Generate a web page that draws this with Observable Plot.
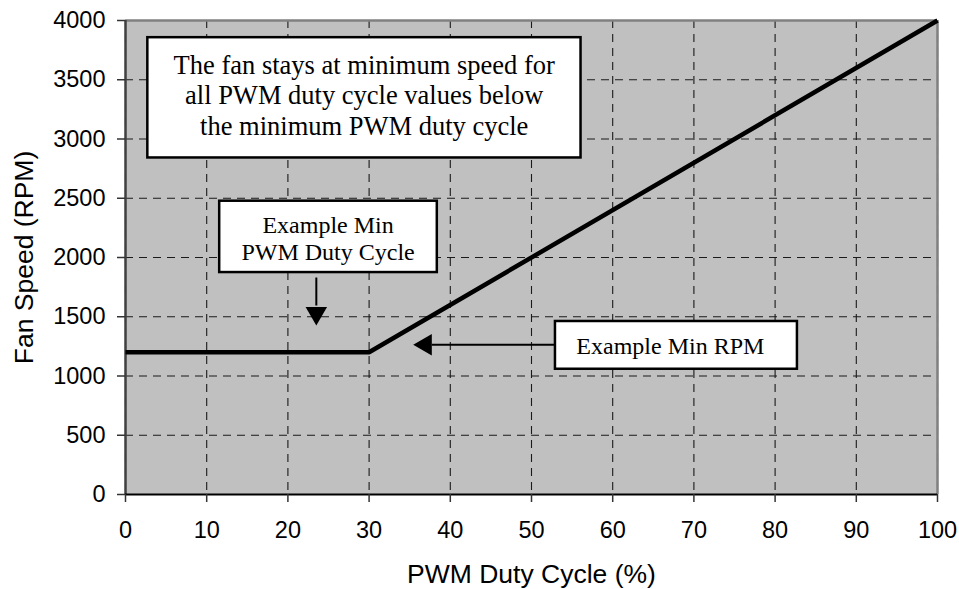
<!DOCTYPE html>
<html><head><meta charset="utf-8">
<script src="https://cdn.jsdelivr.net/npm/d3@7"></script>
<script src="https://cdn.jsdelivr.net/npm/@observablehq/plot@0.6"></script>
<style>body{margin:0;background:#fff}</style>
</head><body><div id="chart"></div>
<script>
// Data
const dutyCycle = [0, 30, 100];
const fanSpeed = [1200, 1200, 4000];
const xTicks = [0, 10, 20, 30, 40, 50, 60, 70, 80, 90, 100];
const yTicks = [0, 500, 1000, 1500, 2000, 2500, 3000, 3500, 4000];
const xLabel = "PWM Duty Cycle (%)";
const yLabel = "Fan Speed (RPM)";

// Annotation boxes (data coordinates)
const boxText = [
  "The fan stays at minimum speed for\nall PWM duty cycle values below\nthe minimum PWM duty cycle",
  "Example Min\nPWM Duty Cycle",
  "Example Min RPM"
];
const boxX1 = [2.75, 11.6, 52.95];
const boxX2 = [56.1, 38.4, 82.75];
const boxY1 = [2840, 1873, 1057];
const boxY2 = [3855, 2475, 1460];
const boxTextX = [29.4, 24.95, 67.1];
const boxTextY = [3376, 2164, 1257];
const boxFontSize = [26.5, 24, 24];
const boxLineHeight = [1.16, 1.14, 1.14];

// Arrows (shaft start/end, head position, head rotation)
const arrowX1 = [23.5, 52.95];
const arrowY1 = [1831, 1263];
const arrowX2 = [23.5, 37.72];
const arrowY2 = [1595, 1263];
const headX = [23.5, 36.96];
const headY = [1531, 1263];
const headRotate = [180, -90];

const series = dutyCycle.map((d, i) => ({x: d, y: fanSpeed[i]}));
const boxes = boxText.map((t, i) => ({
  t, x1: boxX1[i], x2: boxX2[i], y1: boxY1[i], y2: boxY2[i],
  tx: boxTextX[i], ty: boxTextY[i], fs: boxFontSize[i], lh: boxLineHeight[i]
}));
const arrows = arrowX1.map((d, i) => ({
  x1: d, y1: arrowY1[i], x2: arrowX2[i], y2: arrowY2[i],
  hx: headX[i], hy: headY[i], r: headRotate[i]
}));

const serif = "'Liberation Serif', 'Times New Roman', serif";

const textMarks = boxes.map(b => Plot.text([b], {
  x: "tx", y: "ty", text: "t", fontSize: b.fs, lineHeight: b.lh,
  fontFamily: serif, fill: "black", textAnchor: "middle", lineAnchor: "middle"
}));

const chart = Plot.plot({
  width: 959,
  height: 589,
  marginLeft: 125,
  marginRight: 22,
  marginTop: 20,
  marginBottom: 95,
  style: {fontFamily: "'Liberation Sans', Arial, sans-serif", background: "white", overflow: "visible"},
  x: {domain: [0, 100], label: null},
  y: {domain: [0, 4000], label: null},
  marks: [
    Plot.frame({fill: "#c0c0c0", stroke: null}),
    Plot.gridX(xTicks, {stroke: "#1a1a1a", strokeOpacity: 1, strokeWidth: 1.1, strokeDasharray: "8,6"}),
    Plot.gridY(yTicks, {stroke: "#1a1a1a", strokeOpacity: 1, strokeWidth: 1.1, strokeDasharray: "8,6"}),
    Plot.ruleY([4000], {stroke: "#808080", strokeWidth: 2.5}),
    Plot.ruleX([100], {stroke: "#808080", strokeWidth: 2.5}),
    Plot.ruleX([0], {stroke: "#404040", strokeWidth: 2.5}),
    Plot.ruleY([0], {stroke: "black", strokeWidth: 2}),
    Plot.axisX({ticks: xTicks, tickFormat: d => String(d), tickSize: 8, tickPadding: 19, fontSize: 23.5, stroke: "#333", strokeWidth: 1.5, fill: "black", label: null}),
    Plot.axisY({ticks: yTicks, tickFormat: d => String(d), tickSize: 8, tickPadding: 12, fontSize: 23.5, stroke: "#333", strokeWidth: 1.5, fill: "black", label: null}),
    Plot.line(series, {x: "x", y: "y", stroke: "black", strokeWidth: 4.5, strokeLinejoin: "miter", strokeLinecap: "butt"}),
    Plot.rect(boxes, {x1: "x1", x2: "x2", y1: "y1", y2: "y2", fill: "white", stroke: "black", strokeWidth: 2.5}),
    ...textMarks,
    Plot.link(arrows, {x1: "x1", y1: "y1", x2: "x2", y2: "y2", stroke: "black", strokeWidth: 2}),
    Plot.dot(arrows, {x: "hx", y: "hy", symbol: "triangle", r: 7.97, rotate: "r", fill: "black", stroke: null}),
    Plot.text([yLabel], {frameAnchor: "left", dx: -111, rotate: -90, lineAnchor: "top", textAnchor: "middle", fontSize: 26.5, fill: "black"}),
    Plot.text([xLabel], {frameAnchor: "bottom", dy: 70, lineAnchor: "top", textAnchor: "middle", fontSize: 26.5, fill: "black"})
  ]
});
document.getElementById("chart").appendChild(chart);
</script>
</body></html>
